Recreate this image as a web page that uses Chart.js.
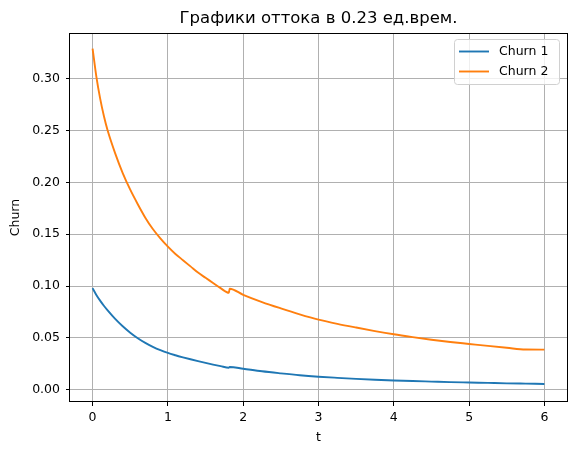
<!DOCTYPE html>
<html><head><meta charset="utf-8">
<script src="https://cdn.jsdelivr.net/npm/chart.js@4.4.0/dist/chart.umd.min.js"></script>
<style>html,body{margin:0;padding:0;background:#fff;}</style>
</head><body>
<canvas id="c" width="576" height="455"></canvas>
<script>
const chartTitle = "Графики оттока в 0.23 ед.врем.";
const seriesNames = ["Churn 1", "Churn 2"];
const seriesColors = ["#1f77b4", "#ff7f0e"];
const xLabel = "t";
const yLabel = "Churn";
const tValues = [0, 0.05, 0.1, 0.15, 0.2, 0.3, 0.4, 0.5, 0.6, 0.7, 0.8, 0.9, 1.0, 1.1, 1.2, 1.3, 1.4, 1.5, 1.6, 1.7, 1.81, 1.82, 2.0, 2.25, 2.5, 2.75, 3.0, 3.25, 3.5, 3.75, 4.0, 4.25, 4.5, 4.75, 5.0, 5.25, 5.5, 5.75, 6.0];
const churn1 = [0.098, 0.0915, 0.0860, 0.0810, 0.0765, 0.0683, 0.0612, 0.0550, 0.0497, 0.0452, 0.0414, 0.0382, 0.0355, 0.0333, 0.0313, 0.0294, 0.0276, 0.0259, 0.0243, 0.0228, 0.0213, 0.0220, 0.0203, 0.0178, 0.0158, 0.0140, 0.0126, 0.0115, 0.0105, 0.0097, 0.0090, 0.0084, 0.0079, 0.0074, 0.0070, 0.0066, 0.0062, 0.0059, 0.0056];
const churn2 = [0.329, 0.302, 0.281, 0.264, 0.250, 0.228, 0.209, 0.193, 0.179, 0.166, 0.155, 0.146, 0.138, 0.131, 0.125, 0.119, 0.113, 0.108, 0.103, 0.098, 0.0935, 0.0975, 0.0916, 0.0846, 0.0785, 0.0728, 0.0677, 0.0636, 0.0600, 0.0566, 0.0535, 0.0508, 0.0483, 0.0461, 0.0442, 0.0423, 0.0405, 0.0388, 0.0387];
const xTicks = [0, 1, 2, 3, 4, 5, 6];
const yTicks = [0, 0.05, 0.10, 0.15, 0.20, 0.25, 0.30];

const FONT = "'DejaVu Sans', sans-serif";
const seriesValues = [churn1, churn2];

const decor = {
  id: 'decor',
  afterDatasetsDraw(chart) {
    const {ctx, chartArea: a} = chart;
    ctx.save();
    ctx.strokeStyle = '#000';
    ctx.lineWidth = 1;
    ctx.strokeRect(Math.round(a.left) - 0.5, Math.round(a.top) + 0.5, Math.round(a.right - a.left) + 1, Math.round(a.bottom - a.top) - 1);
    ctx.fillStyle = '#000';
    ctx.font = "16.5px " + FONT;
    ctx.textAlign = 'center';
    ctx.textBaseline = 'middle';
    ctx.fillText(chartTitle, (a.left + a.right) / 2, 19);
    const w = 105, h = 45;
    const lx = a.right - 8 - w, ly = a.top + 6;
    ctx.beginPath();
    ctx.roundRect(lx + 0.5, ly + 0.5, w, h, 3);
    ctx.fillStyle = 'rgba(255,255,255,0.8)';
    ctx.fill();
    ctx.strokeStyle = '#d0d0d0';
    ctx.stroke();
    ctx.font = "12.5px " + FONT;
    ctx.textAlign = 'left';
    seriesNames.forEach((name, i) => {
      const ry = ly + 12.5 + i * 20;
      ctx.beginPath();
      ctx.moveTo(lx + 5, ry);
      ctx.lineTo(lx + 35, ry);
      ctx.strokeStyle = seriesColors[i];
      ctx.lineWidth = 1.9;
      ctx.stroke();
      ctx.fillStyle = '#000';
      ctx.fillText(name, lx + 45, ry + 0.5);
    });
    ctx.restore();
  }
};

new Chart(document.getElementById('c'), {
  type: 'line',
  data: {
    datasets: seriesNames.map((name, i) => ({
      label: name,
      data: tValues.map((t, j) => ({x: t, y: seriesValues[i][j]})),
      borderColor: seriesColors[i],
      backgroundColor: seriesColors[i],
      borderWidth: 1.9,
      pointRadius: 0,
      cubicInterpolationMode: 'monotone',
      fill: false
    }))
  },
  options: {
    responsive: false,
    animation: false,
    devicePixelRatio: 1,
    layout: {padding: {top: 33, right: 9, left: 0, bottom: 0}},
    plugins: {legend: {display: false}, title: {display: false}, tooltip: {enabled: false}},
    scales: {
      x: {
        type: 'linear', min: -0.3, max: 6.3,
        afterFit: s => { s.height = 53; },
        afterBuildTicks: s => { s.ticks = xTicks.map(v => ({value: v})); },
        grid: {color: '#b0b0b0', lineWidth: 1, drawTicks: true, tickLength: 4, tickColor: '#000'},
        border: {display: false},
        ticks: {color: '#000', font: {family: FONT, size: 12.5}, padding: 4, maxRotation: 0, callback: v => String(v)},
        title: {display: true, text: xLabel, color: '#000', font: {family: FONT, size: 12.5}, padding: {top: 0, bottom: 10}}
      },
      y: {
        type: 'linear', min: -0.0118, max: 0.3441,
        afterFit: s => { s.width = 70; },
        afterBuildTicks: s => { s.ticks = yTicks.map(v => ({value: v})); },
        grid: {color: '#b0b0b0', lineWidth: 1, drawTicks: true, tickLength: 4, tickColor: '#000'},
        border: {display: false},
        ticks: {color: '#000', font: {family: FONT, size: 12.5}, padding: 6, callback: v => v.toFixed(2)},
        title: {display: true, text: yLabel, color: '#000', font: {family: FONT, size: 12.5}, padding: {top: 8, bottom: 0}}
      }
    }
  },
  plugins: [decor]
});
</script>
</body></html>
